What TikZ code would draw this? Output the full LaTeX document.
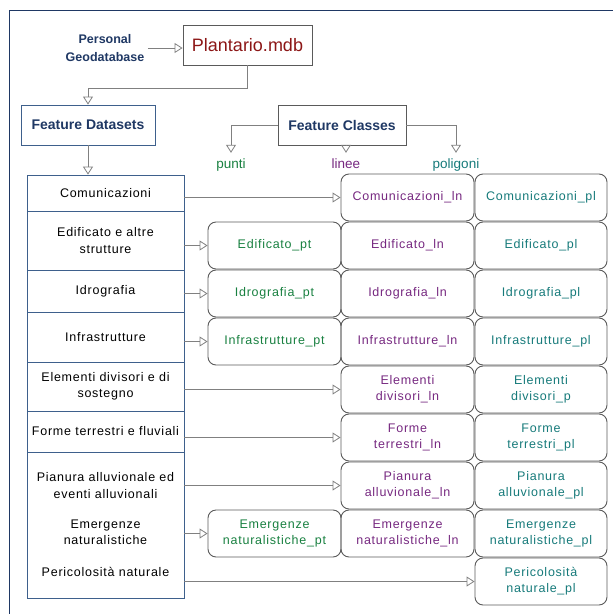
\documentclass[tikz,border=0pt]{standalone}
\usepackage{fontspec}
\setmainfont{Liberation Sans}
\newfontfamily\boxfont{Liberation Sans}[LetterSpace=6]
\usetikzlibrary{arrows.meta, positioning}
\definecolor{hdrblue}{RGB}{31, 56, 100}
\definecolor{mdbred}{RGB}{140, 22, 22}
\definecolor{ptgreen}{RGB}{24, 128, 64}
\definecolor{lnpurple}{RGB}{118, 40, 128}
\definecolor{plteal}{RGB}{22, 122, 122}
\definecolor{cellblue}{RGB}{62, 96, 140}
\definecolor{boxgray}{RGB}{90, 90, 90}
\definecolor{conngray}{RGB}{128, 128, 128}

\begin{document}
\begin{tikzpicture}[x=1pt, y=-1pt,
  hdr/.style={draw, minimum height=40pt, inner sep=2pt, line width=0.9pt, font=\fontsize{14}{16}\selectfont\bfseries, text=hdrblue},
  cell/.style={draw=cellblue, line width=0.8pt, minimum width=157pt, inner sep=1pt, align=center, font=\boxfont\fontsize{12.5}{16.5}\selectfont},
  celltxt/.style={inner sep=1pt, align=center, font=\boxfont\fontsize{12.5}{16.5}\selectfont},
  fcbox/.style={draw=boxgray, line width=0.9pt, rounded corners=8pt, minimum width=133pt, minimum height=47pt, inner sep=1pt, align=center, font=\boxfont\fontsize{12.5}{16}\selectfont},
  lbl/.style={anchor=base, inner sep=3pt, text height=12pt, font=\fontsize{13.5}{15}\selectfont},
  conn/.style={draw=conngray, line width=0.8pt, -{Triangle[open, length=8pt, width=10pt]}}
]
  \useasboundingbox (0,0) rectangle (613,614);
  \draw[hdrblue, line width=1pt] (9,614) -- (9,10) -- (613,10);

  % Geodatabase
  \node[font=\fontsize{12.5}{18}\selectfont\bfseries, text=hdrblue, align=center] (pers) at (105,48) {Personal\\Geodatabase};
  \node[hdr, draw=boxgray, minimum width=129pt, font=\fontsize{18}{20}\selectfont, text=mdbred] (mdb) at (247.5,45) {Plantario.mdb};
  \node[hdr, draw=cellblue, minimum width=134pt] (fds) at (88,125) {Feature Datasets};
  \node[hdr, draw=boxgray, minimum width=128pt] (fcl) at (342,125) {Feature Classes};

  \node[lbl, text=ptgreen] (punti) at (231,168) {punti};
  \node[lbl, text=lnpurple] (linee) at (346,168) {linee};
  \node[lbl, text=plteal] (poli) at (456,168) {poligoni};

  \draw[conn] (pers.east) -- (pers.east -| mdb.west);
  \draw[conn] (mdb.south) -- ++(0,23) -| (fds.north);
  \draw[conn] (fcl.west) -| (punti.north);
  \draw[conn] (fcl.south -| linee.north) -- (linee.north);
  \draw[conn] (fcl.east) -| (poli.north);

  % Feature datasets
  \foreach \n/\y/\h/\t in {comu/193/36/Comunicazioni, edif/240.5/59/{Edificato e altre\\strutture},
      idro/291/42/Idrografia, infr/337/50/Infrastrutture, elem/386.5/49/{Elementi divisori e di\\sostegno},
      form/431.5/41/{Forme terrestri e fluviali}, rest/525/146/{}} {
    \node[cell, minimum height=\h pt] (\n) at (105.5,\y) {\t};
  }
  \node[celltxt] (pian) at (105.5,485.5) {Pianura alluvionale ed\\eventi alluvionali};
  \node[celltxt] (emer) at (105.5,532.5) {Emergenze\\naturalistiche};
  \node[celltxt] (peri) at (105.5,572) {Pericolosità naturale};
  \draw[conn] (fds.south) -- (fds.south |- comu.north);

  % Feature classes
  \foreach \i/\t in {2/Edificato\_pt, 3/Idrografia\_pt, 4/Infrastrutture\_pt, 8/{Emergenze\\naturalistiche\_pt}} {
    \node[fcbox, text=ptgreen] (pt\i) at (274.5,149.5+\i*48) {\t};
  }
  \foreach \i/\t in {1/Comunicazioni\_ln, 2/Edificato\_ln, 3/Idrografia\_ln, 4/Infrastrutture\_ln,
      5/{Elementi\\divisori\_ln}, 6/{Forme\\terrestri\_ln}, 7/{Pianura\\alluvionale\_ln}, 8/{Emergenze\\naturalistiche\_ln}} {
    \node[fcbox, text=lnpurple] (ln\i) at (407.5,149.5+\i*48) {\t};
  }
  \foreach \i/\t in {1/Comunicazioni\_pl, 2/Edificato\_pl, 3/Idrografia\_pl, 4/Infrastrutture\_pl,
      5/{Elementi\\divisori\_p}, 6/{Forme\\terrestri\_pl}, 7/{Pianura\\alluvionale\_pl},
      8/{Emergenze\\naturalistiche\_pl}, 9/{Pericolosità\\naturale\_pl}} {
    \node[fcbox, minimum width=132pt, text=plteal] (pl\i) at (541,149.5+\i*48) {\t};
  }

  % Links
  \draw[conn] (comu.east |- ln1.west) -- (ln1.west);
  \draw[conn] (edif.east |- pt2.west) -- (pt2.west);
  \draw[conn] (idro.east |- pt3.west) -- (pt3.west);
  \draw[conn] (infr.east |- pt4.west) -- (pt4.west);
  \draw[conn] (elem.east |- ln5.west) -- (ln5.west);
  \draw[conn] (form.east |- ln6.west) -- (ln6.west);
  \draw[conn] (rest.east |- ln7.west) -- (ln7.west);
  \draw[conn] (rest.east |- pt8.west) -- (pt8.west);
  \draw[conn] (rest.east |- pl9.west) -- (pl9.west);
\end{tikzpicture}
\end{document}
